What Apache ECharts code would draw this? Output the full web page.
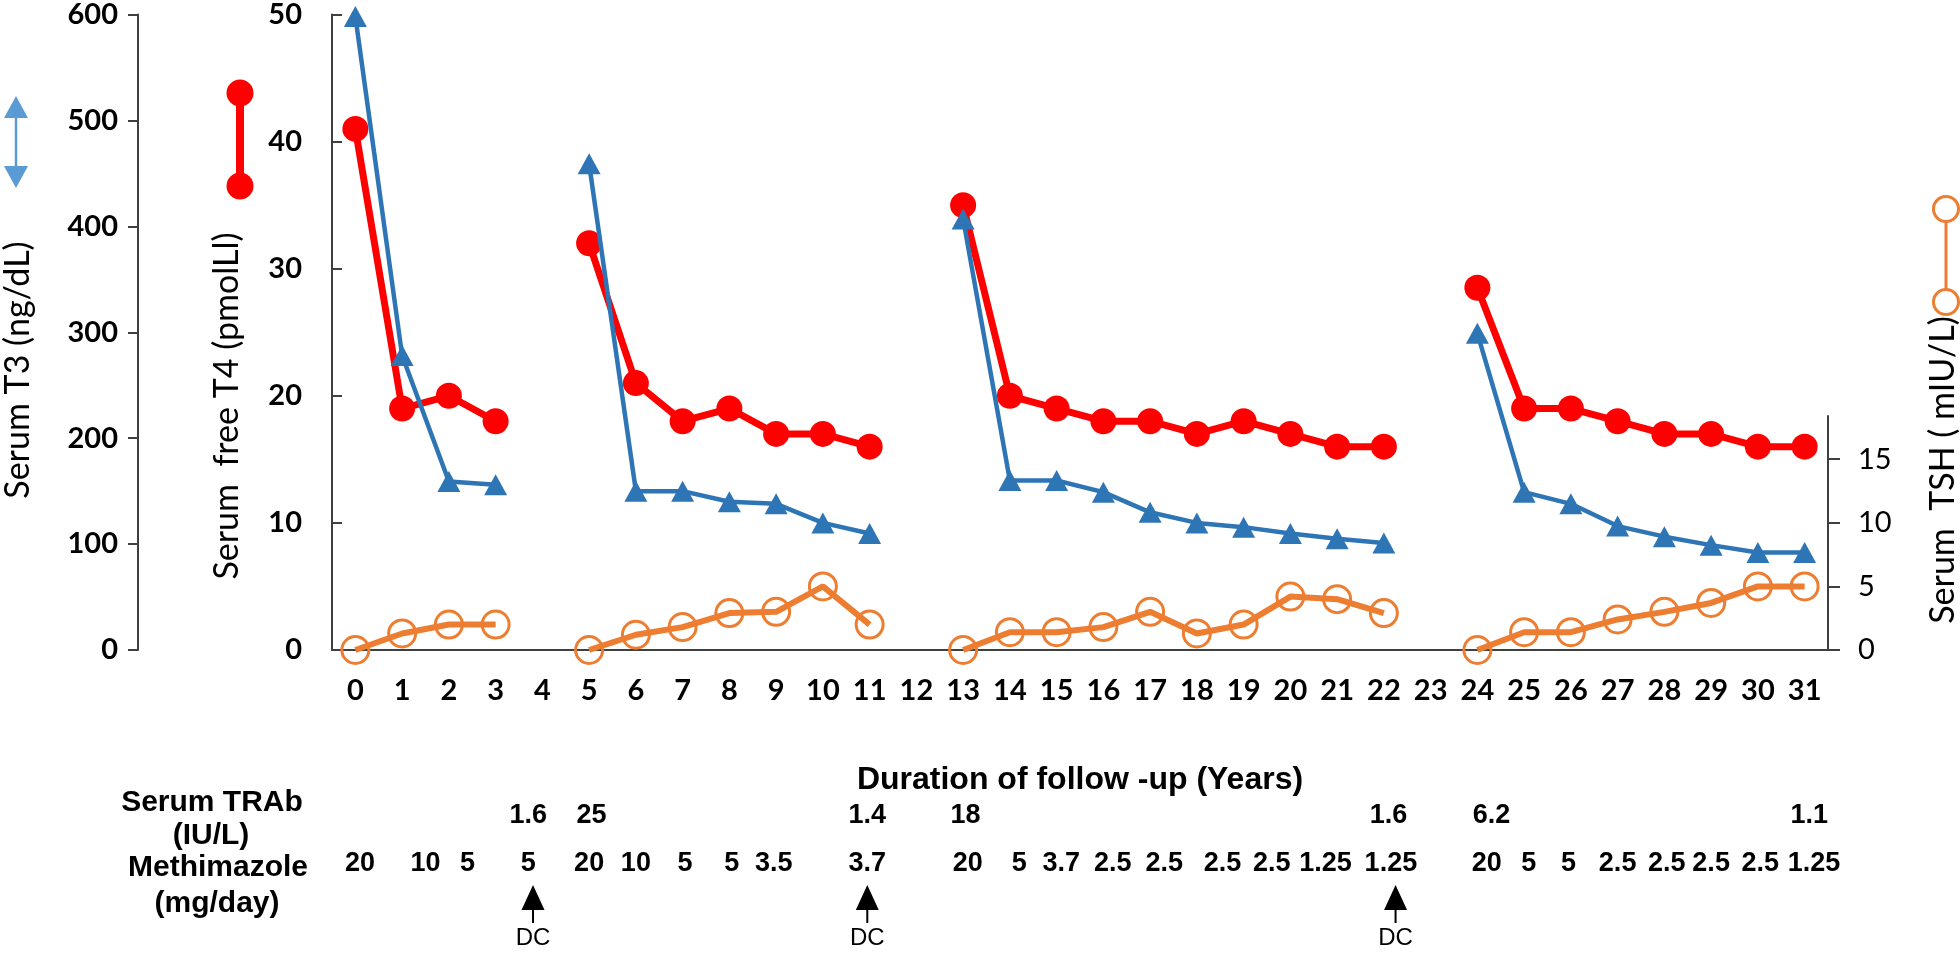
<!DOCTYPE html>
<html><head><meta charset="utf-8">
<script src="https://cdn.jsdelivr.net/npm/echarts@6/dist/echarts.min.js"></script>
<style>html,body{margin:0;padding:0;background:#fff}#c{width:1960px;height:953px}</style>
</head><body><div id="c"></div>
<script>
// ---- data ----
const years = ['0','1','2','3','4','5','6','7','8','9','10','11','12','13','14','15','16','17','18','19','20','21','22','23','24','25','26','27','28','29','30','31'];
const serumT3 = [598,278,159,156,null,459,150,150,140,138,120,110,null,407,160,160,149,130,120,116,110,105,101,null,299,149,138,117,107,99,92,92];
const freeT4  = [41,19,20,18,null,32,21,18,19,17,17,16,null,35,20,19,18,18,17,18,17,16,16,null,28.5,19,19,18,17,17,16,16];
const tsh     = [0,1.3,2.0,2.0,null,0,1.2,1.8,2.9,3.0,5.0,2.0,null,0,1.4,1.4,1.8,3.0,1.3,2.0,4.2,4.0,2.9,null,0,1.4,1.4,2.4,3.0,3.7,5.0,5.0];
const t3Ticks = [0,100,200,300,400,500,600];
const t4Ticks = [0,10,20,30,40,50];
const tshTicks = [0,5,10,15];
const trabYears  = [3.7,5.05,10.95,13.05,22.1,24.3,31.1];
const trabValues = ['1.6','25','1.4','18','1.6','6.2','1.1'];
const mmiYears = [0.1,1.5,2.4,3.7,5.0,6.0,7.05,8.05,8.95,10.95,13.1,14.2,15.1,16.2,17.3,18.55,19.6,20.75,22.15,24.2,25.1,25.95,27.0,28.05,29.0,30.05,31.2];
const mmiDoses = ['20','10','5','5','20','10','5','5','3.5','3.7','20','5','3.7','2.5','2.5','2.5','2.5','1.25','1.25','20','5','5','2.5','2.5','2.5','2.5','1.25'];
const dcYears = [3.8,10.95,22.25];

// ---- styles ----
const RED = '#FF0000', BLUE = '#2E75B6', ORANGE = '#ED7D31', LBLUE = '#5B9BD5', AX = '#404040';
const numFont = {fontFamily:'Lato', fontSize:29, fontWeight:'bold', color:'#000'};
const annFont = {fontFamily:'Liberation Sans', fontSize:27, fontWeight:'bold', color:'#000'};
const headFont = 'bold 30px "Liberation Sans"';
const titleFont = '34px Lato';

const chart = echarts.init(document.getElementById('c'));
const L = 332, R = 132;
chart.setOption({
  animation:false,
  backgroundColor:'#fff',
  grid:[
    {left:L, right:R, top:13.5, bottom:303},
    {left:L, right:R, top:416, bottom:303},
    {left:L, right:R, top:792, height:96}
  ],
  xAxis:[
    {type:'category', gridIndex:0, data:years, boundaryGap:true,
     axisLine:{show:true, lineStyle:{color:AX, width:2}}, axisTick:{show:false},
     axisLabel:Object.assign({interval:0, margin:26}, numFont),
     name:'Duration of follow -up (Years)', nameLocation:'middle', nameGap:114,
     nameTextStyle:{fontFamily:'Liberation Sans', fontSize:32, fontWeight:'bold', color:'#000'}},
    {type:'category', gridIndex:1, data:years, show:false},
    {type:'value', gridIndex:2, min:-0.5, max:31.5, show:false}
  ],
  yAxis:[
    {type:'value', gridIndex:0, min:t3Ticks[0], max:t3Ticks[t3Ticks.length-1], interval:t3Ticks[1]-t3Ticks[0],
     position:'left', offset:194, splitLine:{show:false},
     axisLine:{show:true, lineStyle:{color:AX, width:2}},
     axisTick:{show:true, length:10, lineStyle:{color:AX, width:2}},
     axisLabel:Object.assign({margin:20}, numFont)},
    {type:'value', gridIndex:0, min:t4Ticks[0], max:t4Ticks[t4Ticks.length-1], interval:t4Ticks[1]-t4Ticks[0],
     position:'left', offset:0, splitLine:{show:false},
     axisLine:{show:true, lineStyle:{color:AX, width:2}},
     axisTick:{show:true, inside:true, length:10, lineStyle:{color:AX, width:2}},
     axisLabel:Object.assign({margin:30}, numFont)},
    {type:'value', gridIndex:1, min:tshTicks[0], max:18.4, interval:tshTicks[1]-tshTicks[0],
     position:'right', splitLine:{show:false},
     axisLine:{show:true, lineStyle:{color:AX, width:2}},
     axisTick:{show:true, length:12, lineStyle:{color:AX, width:2}},
     axisLabel:Object.assign({margin:30, showMaxLabel:false}, numFont, {fontWeight:'normal'})},
    {type:'category', gridIndex:2, data:['TRAb','MMI'], inverse:true, show:false}
  ],
  series:[
    {name:'free T4', type:'line', xAxisIndex:0, yAxisIndex:1, data:freeT4, connectNulls:false,
     symbol:'circle', symbolSize:26, itemStyle:{color:RED}, lineStyle:{color:RED, width:7}, z:3},
    {name:'T3', type:'line', xAxisIndex:0, yAxisIndex:0, data:serumT3, connectNulls:false,
     symbol:'triangle', symbolSize:[23,21], itemStyle:{color:BLUE}, lineStyle:{color:BLUE, width:4.5}, z:4},
    {name:'TSH', type:'line', xAxisIndex:1, yAxisIndex:2, data:tsh, connectNulls:false,
     symbol:'circle', symbolSize:27, itemStyle:{color:'rgba(255,255,255,0)', borderColor:ORANGE, borderWidth:3},
     lineStyle:{color:ORANGE, width:6}, z:5},
    {type:'scatter', xAxisIndex:2, yAxisIndex:3, symbolSize:1, itemStyle:{color:'rgba(0,0,0,0)', opacity:1},
     data:trabYears.map((x,i)=>[x,'TRAb',trabValues[i]]),
     label:Object.assign({show:true, position:'inside', formatter:p=>p.value[2]}, annFont)},
    {type:'scatter', xAxisIndex:2, yAxisIndex:3, symbolSize:1, itemStyle:{color:'rgba(0,0,0,0)', opacity:1},
     data:mmiYears.map((x,i)=>[x,'MMI',mmiDoses[i]]),
     label:Object.assign({show:true, position:'inside', formatter:p=>p.value[2]}, annFont)},
    {type:'scatter', xAxisIndex:2, yAxisIndex:3,
     symbol:'path://M11.5,0 L23,25 L12.5,25 L12.5,38 L10.5,38 L10.5,25 L0,25 Z',
     symbolSize:[23,38], symbolOffset:[0,40], itemStyle:{color:'#000', opacity:1},
     data:dcYears.map(x=>[x,'MMI']),
     label:{show:true, position:'bottom', distance:3, formatter:'DC', fontFamily:'Liberation Sans', fontSize:24, color:'#000'}}
  ],
  graphic:[
    // axis titles
    {type:'text', x:18, y:370, rotation:Math.PI/2, style:{text:'Serum T3 (ng/dL)', font:titleFont, fill:'#000', align:'center', verticalAlign:'middle'}},
    {type:'text', x:227, y:406, rotation:Math.PI/2, style:{text:'Serum  free T4 (pmolLl)', font:titleFont, fill:'#000', align:'center', verticalAlign:'middle'}},
    {type:'text', x:1943, y:470, rotation:Math.PI/2, style:{text:'Serum  TSH ( mIU/L)', font:titleFont, fill:'#000', align:'center', verticalAlign:'middle'}},
    // row headers
    {type:'text', x:212, y:803, style:{text:'Serum TRAb', font:headFont, fill:'#000', align:'center', verticalAlign:'middle'}},
    {type:'text', x:211, y:836, style:{text:'(IU/L)', font:headFont, fill:'#000', align:'center', verticalAlign:'middle'}},
    {type:'text', x:218, y:868, style:{text:'Methimazole', font:headFont, fill:'#000', align:'center', verticalAlign:'middle'}},
    {type:'text', x:217, y:904, style:{text:'(mg/day)', font:headFont, fill:'#000', align:'center', verticalAlign:'middle'}},
    // legend keys
    {type:'line', shape:{x1:16, y1:116, x2:16, y2:168}, style:{stroke:LBLUE, lineWidth:2.5}},
    {type:'polygon', shape:{points:[[4,118],[16,96],[28,118]]}, style:{fill:LBLUE}},
    {type:'polygon', shape:{points:[[4,166],[16,188],[28,166]]}, style:{fill:LBLUE}},
    {type:'line', shape:{x1:240, y1:93, x2:240, y2:186}, style:{stroke:RED, lineWidth:8}},
    {type:'circle', shape:{cx:240, cy:93, r:13.5}, style:{fill:RED}},
    {type:'circle', shape:{cx:240, cy:186, r:13.5}, style:{fill:RED}},
    {type:'line', shape:{x1:1946, y1:222, x2:1946, y2:290}, style:{stroke:ORANGE, lineWidth:3}},
    {type:'circle', shape:{cx:1946, cy:209, r:12.5}, style:{fill:'#fff', stroke:ORANGE, lineWidth:3}},
    {type:'circle', shape:{cx:1946, cy:302, r:12.5}, style:{fill:'#fff', stroke:ORANGE, lineWidth:3}}
  ]
});
</script></body></html>
